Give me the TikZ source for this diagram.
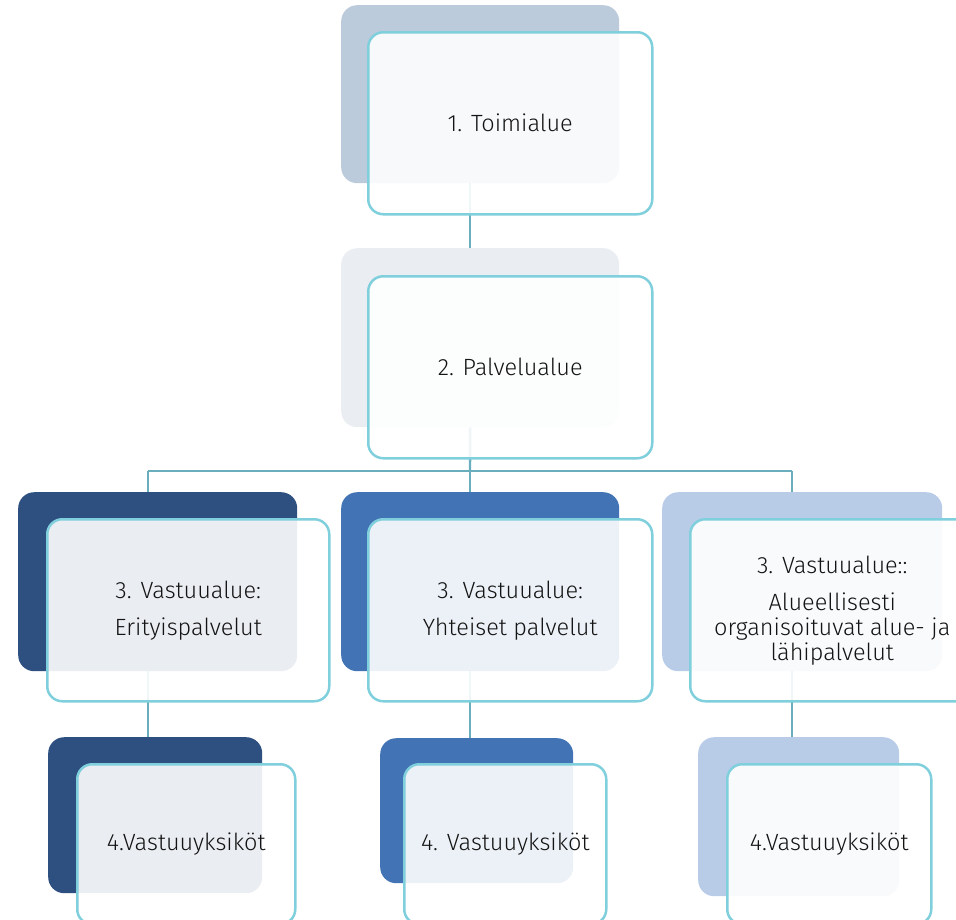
\documentclass[tikz,border=0pt]{standalone}
\usepackage{fontspec}
\setmainfont{Fira Sans}[UprightFont=* Light]
\definecolor{backA}{HTML}{BCCBDB}
\definecolor{backB}{HTML}{EAEEF3}
\definecolor{navy}{HTML}{2E5080}
\definecolor{midblue}{HTML}{4273B4}
\definecolor{paleblue}{HTML}{B8CCE8}
\definecolor{frontline}{HTML}{7FCFDC}
\definecolor{connline}{HTML}{6AADBC}
\definecolor{txt}{HTML}{141414}
\begin{document}
\begin{tikzpicture}[x=1pt,y=-1pt,
  backbox/.style={rounded corners=16pt, inner sep=0pt, draw=none, anchor=north west},
  frontbox/.style={rounded corners=15pt, inner sep=0pt, draw=frontline, line width=2.5pt,
    fill=white, fill opacity=0.9, text opacity=1, anchor=north west, align=center,
    text=txt, font=\fontsize{23.5}{25}\selectfont},
  conn/.style={draw=connline, line width=2.4pt}]
\useasboundingbox (0,0) rectangle (956,919);
\clip (0,0) rectangle (956,919);
% back shapes
\node[backbox, fill=backA, minimum width=278pt, minimum height=178pt] (b1) at (341,5) {};
\node[backbox, fill=backB, minimum width=278pt, minimum height=179pt] (b2) at (341,248) {};
\node[backbox, fill=navy, minimum width=279pt, minimum height=179pt] (b3l) at (18,492) {};
\node[backbox, fill=midblue, minimum width=278pt, minimum height=179pt] (b3m) at (341,492) {};
\node[backbox, fill=paleblue, minimum width=280pt, minimum height=179pt] (b3r) at (662,492) {};
\node[backbox, fill=navy, minimum width=214pt, minimum height=156pt] (b4l) at (48,737) {};
\node[backbox, fill=midblue, minimum width=193pt, minimum height=145pt] (b4m) at (380,738) {};
\node[backbox, fill=paleblue, minimum width=201pt, minimum height=159pt] (b4r) at (698,737) {};
% connectors
\coordinate (busL) at (148,471);
\coordinate (busM) at (470,471);
\coordinate (busR) at (792,471);
\draw[conn] ([xshift=-10pt]b1.south) -- ([xshift=-10pt]b2.north);
\draw[conn] ([xshift=-10pt]b2.south) -- (busM);
\draw[conn] (busL) -- (busR);
\draw[conn] (busL) -- (busL |- b3l.north);
\draw[conn] (busM) -- (busM |- b3m.north);
\draw[conn] (busR) -- (busR |- b3r.north);
\draw[conn] (busL |- b3l.south) -- (busL |- b4l.north);
\draw[conn] (busM |- b3m.south) -- (busM |- b4m.north);
\draw[conn] (busR |- b3r.south) -- (busR |- b4r.north);
% front shapes with text
\node[frontbox, minimum width=284pt, minimum height=182pt] (f1) at (367,31) {1. Toimialue};
\node[frontbox, minimum width=284pt, minimum height=182pt] (f2) at (367,275) {2. Palvelualue};
\node[frontbox, minimum width=282pt, minimum height=182pt] (f3l) at (46,518) {3. Vastuualue:\\[12pt]Erityispalvelut};
\node[frontbox, minimum width=284pt, minimum height=182pt] (f3m) at (367,518) {3. Vastuualue:\\[12pt]Yhteiset palvelut};
\node[frontbox, minimum width=284pt, minimum height=182pt] (f3r) at (689,518) {3. Vastuualue::\\[12pt]Alueellisesti\\organisoituvat alue- ja\\lähipalvelut};
\node[frontbox, minimum width=218pt, minimum height=160pt] (f4l) at (76,763) {4.Vastuuyksiköt};
\node[frontbox, minimum width=202pt, minimum height=160pt] (f4m) at (403,763) {4. Vastuuyksiköt};
\node[frontbox, minimum width=204pt, minimum height=160pt] (f4r) at (726,763) {4.Vastuuyksiköt};
\end{tikzpicture}
\end{document}
